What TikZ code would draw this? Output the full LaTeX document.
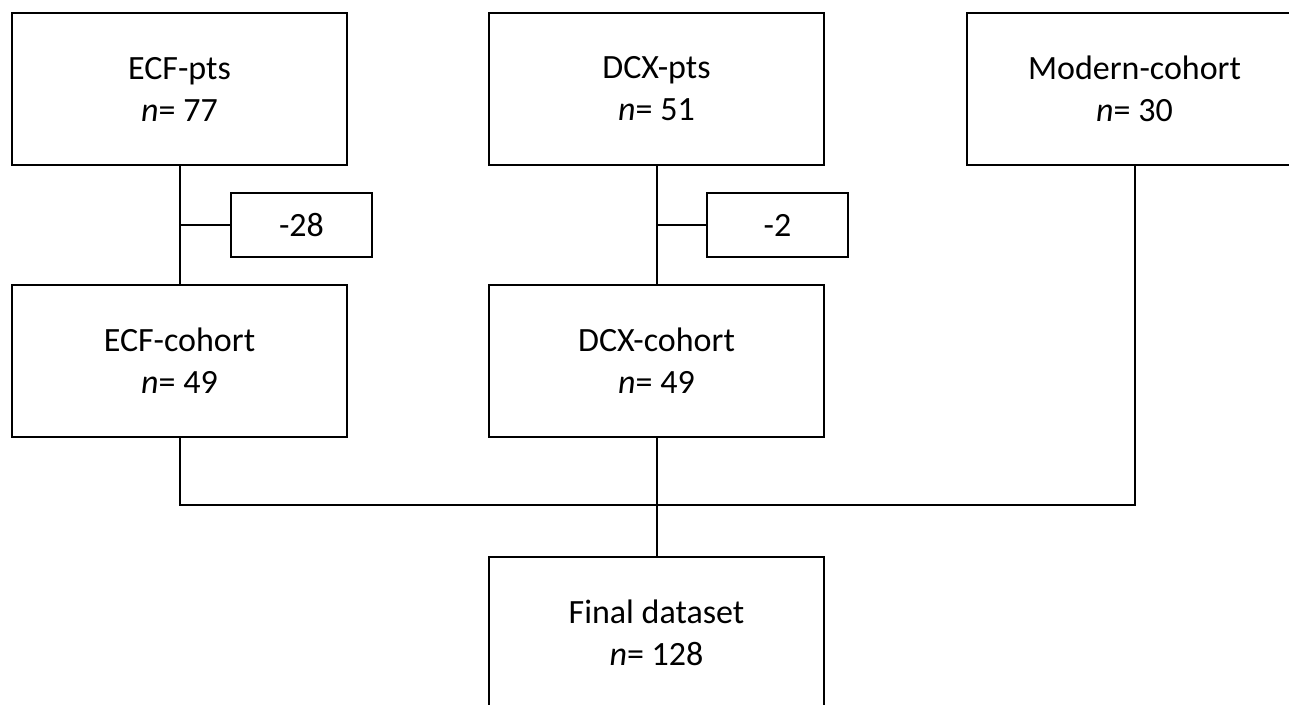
\documentclass[tikz,border=0pt]{standalone}
\usepackage{fontspec}
\setmainfont{Carlito}
\begin{document}
\begin{tikzpicture}[x=1pt,y=-1pt,
  box/.style={draw=black,line width=2pt,minimum width=335pt,minimum height=152pt,
    align=center,inner sep=0pt,font=\fontsize{34pt}{42pt}\selectfont},
  dropbox/.style={draw=black,line width=2pt,minimum width=141pt,minimum height=64pt,
    inner sep=0pt,font=\fontsize{34pt}{40pt}\selectfont},
  link/.style={line width=2pt}]
\useasboundingbox (0,0) rectangle (1289,704);
\clip (0,0) rectangle (1289,704);
% first row
\node[box] (ecf) at (179.5,89) {ECF-pts\\\textit{n}= 77};
\node[box] (dcx) at (656.5,89) {DCX-pts\\\textit{n}= 51};
\node[box] (mod) at (1134.5,89) {Modern-cohort\\\textit{n}= 30};
% exclusions
\node[dropbox] (ex1) at (301.5,225) {-28};
\node[dropbox] (ex2) at (777.5,225) {-2};
% cohorts
\node[box] (ecfc) at (179.5,361) {ECF-cohort\\\textit{n}= 49};
\node[box] (dcxc) at (656.5,361) {DCX-cohort\\\textit{n}= 49};
% merged set
\node[box] (final) at (656.5,633) {Final dataset\\\textit{n}= 128};
\coordinate (join) at (656.5,505);
% connectors
\draw[link] (ecf.south) -- (ecfc.north);
\draw[link] (ecf.south |- ex1.west) -- (ex1.west);
\draw[link] (dcx.south) -- (dcxc.north);
\draw[link] (dcx.south |- ex2.west) -- (ex2.west);
\draw[link] (ecfc.south) |- (join) -| (mod.south);
\draw[link] (dcxc.south) -- (final.north);
\end{tikzpicture}
\end{document}
